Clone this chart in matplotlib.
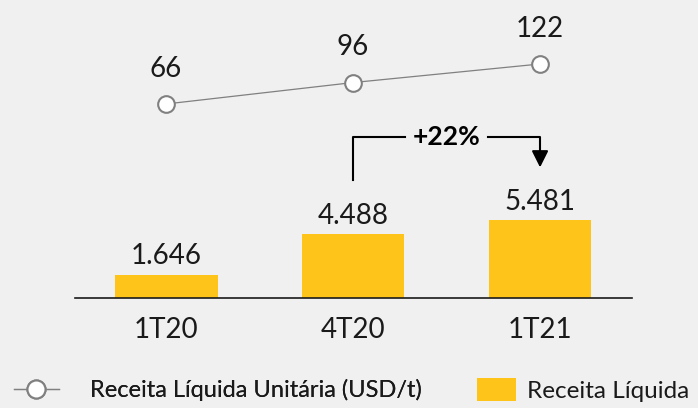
import matplotlib
matplotlib.use('Agg')
import matplotlib.pyplot as plt
from matplotlib.lines import Line2D
from matplotlib.patches import Patch

plt.rcParams['font.family'] = ['Lato', 'DejaVu Sans']

# data
quarters = ['1T20', '4T20', '1T21']
receita = [1.646, 4.488, 5.481]
receita_labels = ['1.646', '4.488', '5.481']
unitaria = [66, 96, 122]
growth_label = '+22%'

bg = '#f0f0f0'
yellow = '#ffc419'
grey = '#808080'
ink = '#1a1a1a'

fig = plt.figure(figsize=(6.98, 4.08), dpi=100, facecolor=bg)
ax = fig.add_axes([0.1075, 0.2696, 0.798, 0.7304])
ax.set_facecolor('none')
x = list(range(len(quarters)))

ax.bar(x, receita, width=0.55, color=yellow, zorder=2)
for xi, v, lab in zip(x, receita, receita_labels):
    ax.text(xi, v + 0.75, lab, ha='center', va='baseline', fontsize=20, color=ink)

ax.set_xlim(-0.487, 2.492)
ax.set_ylim(0, 20.99)
for s in ['top', 'right', 'left']:
    ax.spines[s].set_visible(False)
ax.spines['bottom'].set_color(ink)
ax.spines['bottom'].set_linewidth(1.2)
ax.set_yticks([])
ax.set_xticks(x)
ax.set_xticklabels(quarters, fontsize=20, color=ink)
ax.tick_params(axis='x', length=0, pad=14)

# growth arrow
ax.plot([1, 1, 1.278], [8.3, 11.34, 11.34], color='black', lw=1.5, zorder=3)
ax.plot([1.72, 2.0, 2.0], [11.34, 11.34, 10.3], color='black', lw=1.5, zorder=3)
ax.annotate('', xy=(2.0, 9.2), xytext=(2.0, 10.4),
            arrowprops=dict(arrowstyle='-|>,head_width=0.5,head_length=1.0',
                            color='black', lw=1.5, shrinkA=0, shrinkB=0))
ax.text(1.5, 11.34, growth_label, ha='center', va='center', fontsize=19,
        fontweight='bold', color='black')

# unit revenue line on twin axis
ax2 = ax.twinx()
ax2.set_ylim(-205.7, 211.6)
ax2.axis('off')
ax2.plot(x, unitaria, color=grey, lw=0.9, marker='o', markersize=12,
         markerfacecolor='white', markeredgecolor=grey, markeredgewidth=1.5)
for xi, v in zip(x, unitaria):
    ax2.text(xi, v + 38, str(v), ha='center', va='baseline', fontsize=20, color=ink)

line_handle = Line2D([0], [0], color=grey, lw=0.9, marker='o', markersize=13,
                     markerfacecolor='white', markeredgecolor=grey, markeredgewidth=1.5)
bar_handle = Patch(facecolor=yellow, edgecolor='none')
leg1 = fig.legend([line_handle], ['Receita Líquida Unitária (USD/t)'], loc='center left',
                  bbox_to_anchor=(14 / 698, 0.044), frameon=False, fontsize=17,
                  handlelength=1.9, handletextpad=1.3, borderpad=0, borderaxespad=0,
                  labelcolor=ink)
leg2 = fig.legend([bar_handle], ['Receita Líquida'], loc='center left',
                  bbox_to_anchor=(477 / 698, 0.044), frameon=False, fontsize=17.5,
                  handlelength=1.6, handleheight=1.05, handletextpad=0.45,
                  borderpad=0, borderaxespad=0, labelcolor=ink)
fig.add_artist(leg1)

fig.savefig('out.png', dpi=100, facecolor=bg)
